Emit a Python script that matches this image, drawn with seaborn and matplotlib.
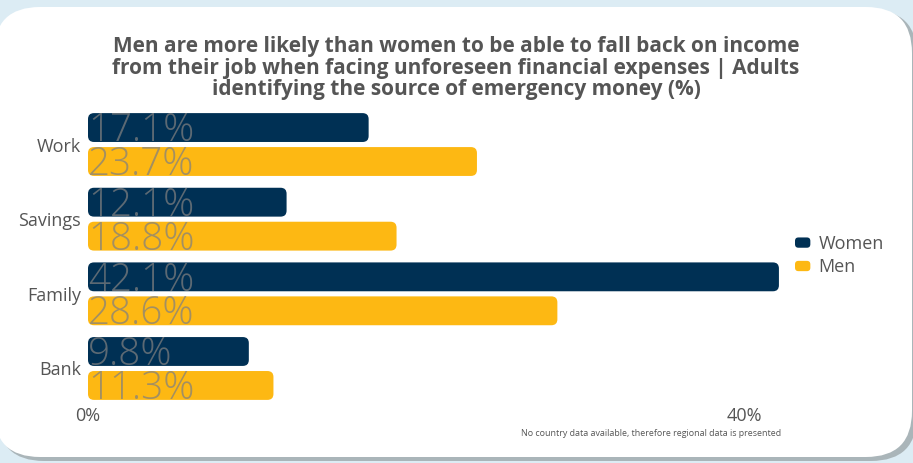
import matplotlib
matplotlib.use("Agg")
import matplotlib.pyplot as plt
import seaborn as sns
import pandas as pd
from matplotlib.patches import FancyBboxPatch, Rectangle
from matplotlib.legend_handler import HandlerPatch
from matplotlib.transforms import IdentityTransform

categories = ["Work", "Savings", "Family", "Bank"]
women = [17.1, 12.1, 42.1, 9.8]
men = [23.7, 18.8, 28.6, 11.3]
series = ["Women", "Men"]
xticks = [0, 40]
xticklabels = ["0%", "40%"]
title = ("Men are more likely than women to be able to fall back on income\n"
         "from their job when facing unforeseen financial expenses | Adults\n"
         "identifying the source of emergency money (%)")
footnote = "No country data available, therefore regional data is presented"

NAVY = "#003054"
YELLOW = "#fdb813"
TXT = "#555555"

df = pd.DataFrame({
    "source": categories * 2,
    "value": women + men,
    "gender": [series[0]] * len(categories) + [series[1]] * len(categories),
})

sns.set_theme(style="white")
plt.rcParams["font.family"] = ["Open Sans", "DejaVu Sans"]

W, H = 913, 463
fig = plt.figure(figsize=(W / 100, H / 100), dpi=100)
fig.patch.set_facecolor("#dcecf4")

# card with shadow (pixel coordinates)
shadow = FancyBboxPatch((-2, 2), W + 6, H - 12, boxstyle="round,pad=0,rounding_size=46",
                        transform=IdentityTransform(), facecolor="#aab5b9", edgecolor="none", zorder=-10)
card = FancyBboxPatch((-6, 6), W + 5, H - 13, boxstyle="round,pad=0,rounding_size=46",
                      transform=IdentityTransform(), facecolor="white", edgecolor="none", zorder=-9)
fig.patches.extend([shadow, card])

ax_left, ax_right = 88, 785
ax_top, ax_bot = 107.2, 405.8
ax = fig.add_axes([ax_left / W, (H - ax_bot) / H, (ax_right - ax_left) / W, (ax_bot - ax_top) / H])
ax.set_facecolor("none")
ax.set_zorder(1)

sns.barplot(data=df, y="source", x="value", hue="gender", orient="h",
            palette=[NAVY, YELLOW], width=0.91, gap=0.15, ax=ax, legend=False,
            saturation=1)

xmax = 42.47
ax.set_xlim(0, xmax)
ax.set_ylim(3.5, -0.5)

# px per data unit
sx = (ax_right - ax_left) / xmax
sy = (ax_bot - ax_top) / 4.0
rad_px = 6.0

bars = list(ax.patches)
for p in bars:
    x0, y0, w, h = p.get_x(), p.get_y(), p.get_width(), p.get_height()
    fc = p.get_facecolor()
    p.remove()
    r = rad_px / sx
    fb = FancyBboxPatch((x0, y0), w, h, boxstyle=f"round,pad=0,rounding_size={r}",
                        mutation_aspect=sx / sy, facecolor=fc, edgecolor="none", zorder=2)
    ax.add_patch(fb)
    ax.text(0.0, y0 + h - 0.01, f"{w:.1f}%", ha="left", va="baseline", fontsize=27.8,
            color="#808080", alpha=0.72, fontweight="light", zorder=3)

ax.set_xticks(xticks)
ax.set_xticklabels(xticklabels)
ax.tick_params(axis="x", length=0, pad=1, labelsize=13, labelcolor=TXT)
ax.tick_params(axis="y", length=0, pad=5, labelsize=13, labelcolor=TXT)
ax.set_xlabel("")
ax.set_ylabel("")
for s in ax.spines.values():
    s.set_visible(False)
ax.grid(False)


class RoundHandler(HandlerPatch):
    def create_artists(self, legend, orig_handle, xdescent, ydescent, width, height, fontsize, trans):
        p = FancyBboxPatch((-xdescent, -ydescent), width, height,
                           boxstyle="round,pad=0,rounding_size=2.5",
                           facecolor=orig_handle.get_facecolor(), edgecolor="none", transform=trans)
        return [p]


handles = [Rectangle((0, 0), 1, 1, facecolor=NAVY), Rectangle((0, 0), 1, 1, facecolor=YELLOW)]
leg = fig.legend(handles, series, loc="upper left", bbox_to_anchor=(795 / W, 1 - 235 / H),
                 frameon=False, fontsize=13, handlelength=0.85, handleheight=0.5,
                 handletextpad=0.45, labelspacing=0.3, borderaxespad=0, borderpad=0,
                 handler_map={Rectangle: RoundHandler()})
for t in leg.get_texts():
    t.set_color(TXT)

fig.text(456 / W, 1 - 36 / H, title, ha="center", va="top", fontsize=15, fontweight="bold",
         color=TXT, linespacing=1.04)
fig.text(651 / W, 1 - 434 / H, footnote, ha="center", va="center", fontsize=6.4, color=TXT)

fig.savefig("out.png", dpi=100, facecolor=fig.get_facecolor())
